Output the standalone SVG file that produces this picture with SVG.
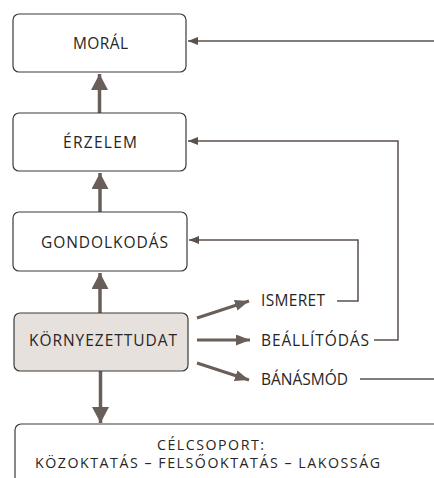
<svg xmlns="http://www.w3.org/2000/svg" width="434" height="478" viewBox="0 0 434 478">
<style>
  .box { fill: #ffffff; stroke: #3a3a3a; stroke-width: 1.2; }
  .shaded { fill: #e6e1dc; }
  .t { font-family: "Open Sans", "Liberation Sans", sans-serif; font-size: 15.5px; fill: #262626; }
  .c { font-size: 14.2px; }
  .thick { stroke: #6a5e59; stroke-width: 3.5; fill: none; }
  .side { stroke: #6a5e59; stroke-width: 3; fill: none; }
  .thin { stroke: #5a504c; stroke-width: 1.5; fill: none; }
</style>
<defs>
  <marker id="big" markerUnits="userSpaceOnUse" markerWidth="17" markerHeight="17" refX="16" refY="8.5" orient="auto">
    <path d="M0,0 L16,8.5 L0,17 z" fill="#6a5e59"/>
  </marker>
  <marker id="mid" markerUnits="userSpaceOnUse" markerWidth="14" markerHeight="11" refX="14" refY="5.5" orient="auto">
    <path d="M0,0 L14,5.5 L0,11 z" fill="#6a5e59"/>
  </marker>
  <marker id="small" markerUnits="userSpaceOnUse" markerWidth="10" markerHeight="8" refX="10" refY="4" orient="auto">
    <path d="M0,0 L10,4 L0,8 z" fill="#5a504c"/>
  </marker>
</defs>
<rect width="434" height="478" fill="#ffffff"/>

<g id="connectors">
  <line class="thick" x1="99.5" y1="113" x2="99.5" y2="74" marker-end="url(#big)"/>
  <line class="thick" x1="100" y1="212" x2="100" y2="173" marker-end="url(#big)"/>
  <line class="thick" x1="100" y1="313" x2="100" y2="273" marker-end="url(#big)"/>
  <line class="thick" x1="100.5" y1="371" x2="100.5" y2="423" marker-end="url(#big)"/>
  <line class="side" x1="197" y1="318" x2="249" y2="301" marker-end="url(#mid)"/>
  <line class="side" x1="197" y1="340" x2="250" y2="340" marker-end="url(#mid)"/>
  <line class="side" x1="197" y1="363" x2="249" y2="380" marker-end="url(#mid)"/>
  <line class="thin" x1="434" y1="41" x2="188" y2="41" marker-end="url(#small)"/>
  <polyline class="thin" points="374,340 398,340 398,141 188,141" marker-end="url(#small)"/>
  <polyline class="thin" points="337,301 358,301 358,240 189,240" marker-end="url(#small)"/>
  <line class="thin" x1="360" y1="379" x2="434" y2="379"/>
</g>

<g id="moral">
  <rect class="box" x="13" y="14" width="173" height="58" rx="6"/>
  <text class="t" x="73" y="49" textLength="55" lengthAdjust="spacing">MORÁL</text>
</g>
<g id="erzelem">
  <rect class="box" x="13" y="113" width="173" height="58" rx="6"/>
  <text class="t" x="63" y="148" textLength="74" lengthAdjust="spacing">ÉRZELEM</text>
</g>
<g id="gondolkodas">
  <rect class="box" x="13" y="212" width="174" height="59" rx="6"/>
  <text class="t" x="41" y="248" textLength="127" lengthAdjust="spacing">GONDOLKODÁS</text>
</g>
<g id="kornyezettudat">
  <rect class="box shaded" x="14" y="313" width="174" height="58" rx="6"/>
  <text class="t" x="29" y="346" textLength="148" lengthAdjust="spacing">KÖRNYEZETTUDAT</text>
</g>
<g id="ismeret">
  <text class="t" x="261" y="306" textLength="64" lengthAdjust="spacing">ISMERET</text>
</g>
<g id="beallitodas">
  <text class="t" x="261" y="346" textLength="108" lengthAdjust="spacing">BEÁLLÍTÓDÁS</text>
</g>
<g id="banasmod">
  <text class="t" x="261" y="385" textLength="87" lengthAdjust="spacing">BÁNÁSMÓD</text>
</g>
<g id="celcsoport">
  <rect class="box" x="15" y="424" width="440" height="80" rx="6"/>
  <text class="t c" x="157" y="450" textLength="107" lengthAdjust="spacing">CÉLCSOPORT:</text>
  <text class="t c" x="35" y="468" textLength="345" lengthAdjust="spacing">KÖZOKTATÁS – FELSŐOKTATÁS – LAKOSSÁG</text>
</g>
</svg>
